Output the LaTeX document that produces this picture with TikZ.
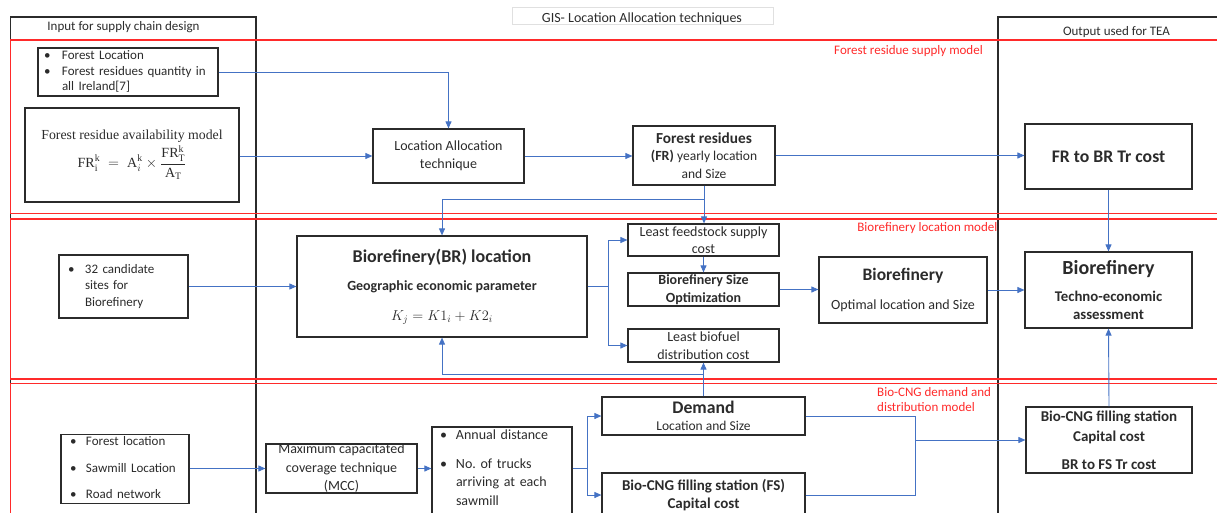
\documentclass[tikz,border=0pt]{standalone}
\usepackage{amsmath}
\usepackage{fontspec}
\setmainfont{Carlito}
\newfontfamily\serf{Liberation Serif}
\usetikzlibrary{arrows.meta}
\definecolor{ablue}{HTML}{4472C4}
\definecolor{ared}{HTML}{FF2A2A}
\definecolor{dk}{HTML}{2B2B2B}
\newcommand{\fsz}[2]{\fontsize{#1}{#2}\selectfont}
\newcommand{\sr}[1]{\text{\serf #1}}
\begin{document}
\begin{tikzpicture}[x=1pt,y=-1pt,
  box/.style={draw=dk, line width=1.2pt, inner sep=0pt, align=center, text=dk, font=\fsz{14}{17.5}},
  arr/.style={draw=ablue, line width=0.9pt, -{Triangle[length=7pt,width=6pt]}},
  ln/.style={draw=ablue, line width=0.9pt},
  zone/.style={draw=ared, line width=1.1pt},
  zlabel/.style={text=ared, font=\fsz{13}{15.5}, inner sep=0pt},
  col/.style={draw=dk, line width=1.2pt},
  ttl/.style={text=dk, font=\fsz{13}{16}, inner sep=0pt}]
\useasboundingbox (0,0) rectangle (1217,513);
\clip (0,0) rectangle (1217,513);

% column frames
\draw[col] (10.7,560) -- (10.7,17) -- (256,17) -- (256,560);
\draw[col] (1240,17) -- (998,17) -- (998,560);
\draw[draw=black!12, line width=0.5pt] (512,7) rectangle (773,24);
\node[ttl] (intitle) at (123.5,27) {Input for supply chain design};
\node[ttl] (outtitle) at (1116.5,32) {Output used for TEA};
\node[ttl, font=\fsz{14}{16}] (gistitle) at (642,18.5) {GIS- Location Allocation techniques};

% model zones
\draw[zone] (10.7,40) rectangle (1240,213.3);
\draw[zone] (10.7,219) rectangle (1240,379);
\draw[zone] (10.7,383.5) rectangle (1240,560);
\node[zlabel, anchor=east] (z1) at (983,51) {Forest residue supply model};
\node[zlabel, anchor=east] (z2) at (997.5,228) {Biorefinery location model};
\node[zlabel, anchor=west, align=left] (z3) at (877,399.5) {Bio-CNG demand and\\distribution model};

% forest residue supply model
\node[box, minimum width=180, minimum height=48, text width=168, align=left, font=\fsz{13}{15.7}] (a1) at (128,72)
 {\begin{tabular}{@{}p{18pt}@{}l@{}}\textbullet & Forest Location\\\textbullet & Forest residues quantity in\\ & all Ireland[7]\end{tabular}};
\node[box, minimum width=214, minimum height=94] (a2) at (132,155)
 {{\serf\fsz{13.8}{16}Forest residue availability model}\\[2pt]
  $\displaystyle \sr{FR}_{\sr{i}}^{\sr{k}} \;=\; \sr{A}_{i}^{\sr{k}} \times \frac{\sr{FR}_{\sr{T}}^{\sr{k}}}{\sr{A}_{\sr{T}}}$};
\node[box, minimum width=151, minimum height=54, font=\fsz{14}{18}] (la) at (448.5,156) {Location Allocation\\technique};
\node[box, minimum width=142, minimum height=59] (fr) at (704,155.5)
 {{\fsz{15.3}{18}\bfseries Forest residues}\\{\bfseries (FR)} {\fsz{13.5}{16}yearly location}\\{\fsz{13.5}{16}and Size}};
\node[box, minimum width=167, minimum height=65, font=\fsz{17.7}{21}\bfseries] (frbr) at (1108.5,156.5) {FR to BR Tr cost};

% biorefinery location model
\node[box, minimum width=129, minimum height=63, text width=111, align=left, font=\fsz{13}{16.5}] (cand) at (123.5,286.5)
 {\begin{tabular}{@{}p{17pt}@{}l@{}}\textbullet & 32 candidate\\ & sites for\\ & Biorefinery\end{tabular}};
\node[box, minimum width=290, minimum height=101] (br) at (442,286.5)
 {{\fsz{18}{21}\bfseries Biorefinery(BR) location}\\[11pt]{\bfseries Geographic economic parameter}\\[12pt]{\fsz{14}{17}$K_j = K1_i + K2_i$}};
\node[box, minimum width=151, minimum height=32] (lf) at (703.5,240) {Least feedstock supply\\cost};
\node[box, minimum width=151, minimum height=33, font=\fsz{14}{17.5}\bfseries] (bs) at (703.5,289.5) {Biorefinery Size\\Optimization};
\node[box, minimum width=151, minimum height=33] (lb) at (703.5,345.5) {Least biofuel\\distribution cost};
\node[box, minimum width=168, minimum height=66] (bo) at (903,290)
 {{\fsz{17.5}{20}\bfseries Biorefinery}\\[12pt]Optimal location and Size};
\node[box, minimum width=167, minimum height=76] (tea) at (1108.5,290)
 {{\fsz{20}{23}\bfseries Biorefinery}\\[10pt]{\fsz{14.8}{19}\bfseries Techno-economic}\\{\fsz{14.8}{19}\bfseries assessment}};

% bio-CNG demand and distribution model
\node[box, minimum width=128, minimum height=66, text width=110, align=left, font=\fsz{13}{16}] (inp) at (125,469)
 {\begin{tabular}{@{}p{16pt}@{}l@{}}\textbullet & Forest location\\[10.5pt]\textbullet & Sawmill Location\\[10.5pt]\textbullet & Road network\end{tabular}};
\node[box, minimum width=151, minimum height=49, font=\fsz{14}{18.5}] (mcc) at (341.5,468.5) {Maximum capacitated\\coverage technique\\(MCC)};
\node[box, minimum width=140, minimum height=93, text width=124, align=left, font=\fsz{14}{18.5}] (ad) at (502,473.5)
 {\begin{tabular}{@{}p{16pt}@{}l@{}}\textbullet & Annual distance\\[10pt]\textbullet & No.\ of trucks\\ & arriving at each\\ & sawmill\\[9pt]\end{tabular}};
\node[box, minimum width=203, minimum height=38] (dem) at (703.5,416)
 {{\fsz{17.7}{19}\bfseries Demand}\\{\fsz{13.5}{15}Location and Size}};
\node[box, minimum width=203, minimum height=44, font=\fsz{15}{18}\bfseries] (fs) at (703.5,495) {Bio-CNG filling station (FS)\\Capital cost};
\node[box, minimum width=166, minimum height=66, font=\fsz{15}{20}\bfseries] (fsc) at (1109,440) {Bio-CNG filling station\\Capital cost\\[8pt]BR to FS Tr cost};

% connectors
\draw[arr] (a1.east) -| (la.north);
\draw[arr] (a2.east |- la.west) -- (la.west);
\draw[arr] (la.east) -- (fr.west |- la.east);
\draw[arr] (fr.east) -- (frbr.west |- fr.east);
\path (fr.south) ++(0,14) coordinate (j1);
\draw[ln] (fr.south) -- (j1);
\draw[arr] (j1) -| (br.north);
\draw[arr] (j1) -- (j1 |- lf.north);
\draw[arr] (frbr.south) -- (tea.north);
\draw[arr] (cand.east) -- (br.west);
\path (br.east) ++(21,0) coordinate (s1);
\draw[ln] (br.east) -- (s1);
\draw[arr] (s1) |- (lf.west);
\draw[arr] (s1) |- (lb.west);
\draw[arr] (lf.south) -- (bs.north);
\draw[arr] (bs.east) -- (bo.west |- bs.east);
\draw[arr] (bo.east) -- (tea.west);
\path (dem.north) ++(0,-22) coordinate (j2);
\draw[ln] (dem.north) -- (j2);
\draw[arr] (j2) -- (lb.south);
\draw[arr] (j2) -| (br.south);
\draw[arr] (inp.east |- mcc.west) -- (mcc.west);
\draw[arr] (mcc.east) -- (ad.west |- mcc.east);
\path (ad.east |- mcc.east) ++(15,0) coordinate (s2);
\draw[ln] (ad.east |- mcc.east) -- (s2);
\draw[arr] (s2) |- (dem.west);
\draw[arr] (s2) |- (fs.west);
\path (fsc.west) ++(-110,0) coordinate (m);
\draw[ln] (dem.east) -| (m);
\draw[ln] (fs.east) -| (m);
\draw[arr] (m) -- (fsc.west);
\draw[arr] (fsc.north) -- (tea.south);
\end{tikzpicture}
\end{document}
